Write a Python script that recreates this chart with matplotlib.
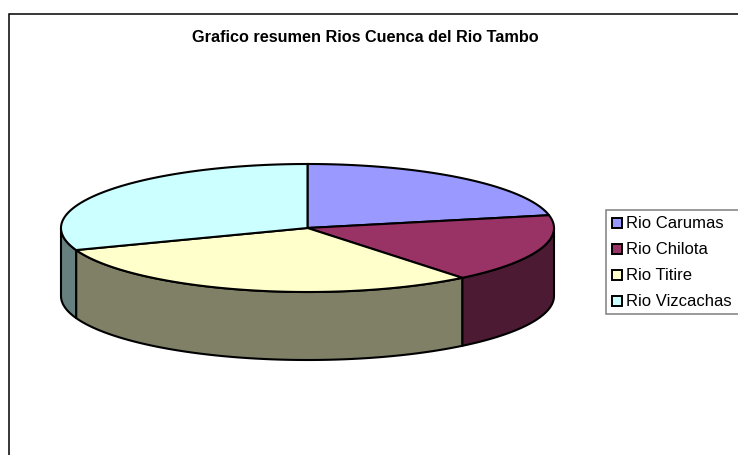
import numpy as np
import matplotlib
matplotlib.use("Agg")
import matplotlib.pyplot as plt
from matplotlib.patches import Polygon, Rectangle

plt.rcParams['font.family'] = ['Liberation Sans', 'DejaVu Sans']

rios = ['Rio Carumas', 'Rio Chilota', 'Rio Titire', 'Rio Vizcachas']
valores = [21.8, 17.4, 30.2, 30.6]
colores = ['#9999FF', '#993366', '#FFFFCC', '#CCFFFF']
lados = ['#4C4C80', '#4C1A33', '#808066', '#668080']
titulo = 'Grafico resumen Rios Cuenca del Rio Tambo'

cx, cy, rx, ry, alto = 307.5, 228, 246.5, 64, 68
lw = 1.5


def borde(a, b, dy=0):
    # puntos de la elipse entre dos angulos, medidos desde arriba en sentido horario
    t = np.linspace(a, b, 200)
    return np.column_stack([cx + rx * np.sin(t), cy - ry * np.cos(t) + dy])


fig = plt.figure(figsize=(7.38, 4.55), dpi=100)
ax = fig.add_axes([0, 0, 1, 1])
ax.set_xlim(0, 738)
ax.set_ylim(455, 0)
ax.axis('off')

# marco del grafico
ax.plot([9, 9, 738], [455, 13.5, 13.5], color='black', lw=1.1, solid_joinstyle='miter')

cortes = np.cumsum([0] + valores) / sum(valores) * 2 * np.pi

# paredes laterales visibles, solo la mitad delantera
for i in range(len(valores)):
    a = max(cortes[i], np.pi / 2)
    b = min(cortes[i + 1], 3 * np.pi / 2)
    if b > a:
        pts = np.vstack([borde(a, b), borde(a, b, alto)[::-1]])
        ax.add_patch(Polygon(pts, closed=True, fc=lados[i], ec='black', lw=lw))

# sectores de la cara superior
for i in range(len(valores)):
    pts = np.vstack([[[cx, cy]], borde(cortes[i], cortes[i + 1])])
    ax.add_patch(Polygon(pts, closed=True, fc=colores[i], ec='black', lw=lw))

ax.text(365, 37, titulo, ha='center', va='center', fontsize=11.7, fontweight='bold', color='black')

# leyenda
ax.add_patch(Rectangle((605.5, 210), 140, 104, fc='white', ec='#7f7f7f', lw=1.1))
filas = [223, 249, 275, 301]
for nombre, color, y in zip(rios, colores, filas):
    ax.add_patch(Rectangle((611.5, y - 5.5), 10.5, 10.5, fc=color, ec='black', lw=1.4))
    ax.text(626.5, y + 0.5, nombre, ha='left', va='center', fontsize=12, color='black')

fig.savefig('out.png', dpi=100)
